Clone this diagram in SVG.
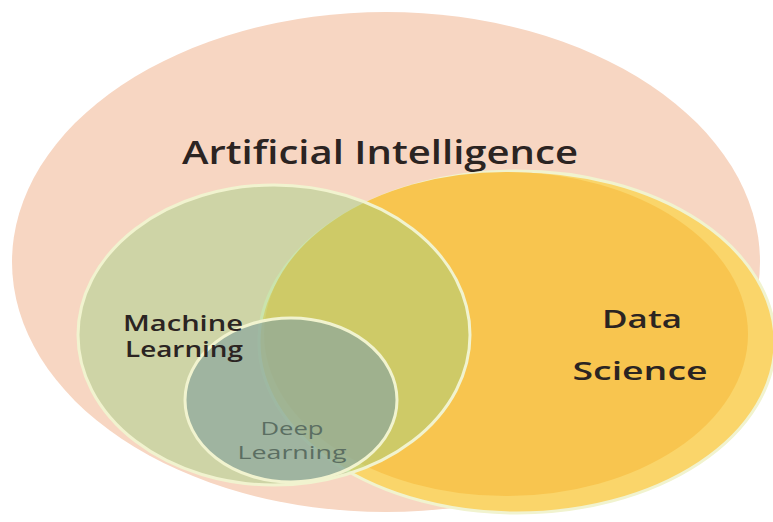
<svg xmlns="http://www.w3.org/2000/svg" width="773" height="522" viewBox="0 0 773 522">
  <style>
    .lbl { font-family: "Open Sans", "Noto Sans", "DejaVu Sans", sans-serif; fill: #2b2422; font-weight: 600; }
    .dl { fill: #5b6e62; font-weight: 400; }
    .rim { stroke: #f1f3cf; stroke-width: 3; }
  </style>
  <rect width="773" height="522" fill="#ffffff"/>

  <!-- Artificial Intelligence: the outer set -->
  <g id="ai">
    <ellipse cx="386" cy="262" rx="374" ry="250" fill="#f7d6c2"/>
    <text class="lbl" x="380" y="164" font-size="32" text-anchor="middle" textLength="396" lengthAdjust="spacingAndGlyphs">Artificial Intelligence</text>
  </g>

  <!-- Data Science: yellow set with a lighter lower-right rim -->
  <g id="data-science">
    <ellipse cx="517" cy="342" rx="258" ry="171" fill="#fad56a" class="rim"/>
    <ellipse cx="506" cy="334" rx="242" ry="162" fill="#f8c54f"/>
    <text class="lbl" x="642" y="328" font-size="26" text-anchor="middle" textLength="80" lengthAdjust="spacingAndGlyphs">Data</text>
    <text class="lbl" x="640" y="380" font-size="26" text-anchor="middle" textLength="135" lengthAdjust="spacingAndGlyphs">Science</text>
  </g>

  <!-- Machine Learning: translucent green set -->
  <g id="machine-learning">
    <ellipse cx="274" cy="335" rx="196" ry="150" fill="#9ed285" fill-opacity="0.46" class="rim"/>
  </g>

  <!-- Deep Learning: translucent teal set inside Machine Learning -->
  <g id="deep-learning">
    <ellipse cx="291" cy="400" rx="106" ry="82" fill="#8da79e" fill-opacity="0.72" class="rim"/>
    <text class="lbl dl" x="292" y="435" font-size="18" text-anchor="middle" textLength="63" lengthAdjust="spacingAndGlyphs">Deep</text>
    <text class="lbl dl" x="292" y="459" font-size="18" text-anchor="middle" textLength="109" lengthAdjust="spacingAndGlyphs">Learning</text>
  </g>

  <!-- Machine Learning label sits above the Deep Learning set -->
  <g id="machine-learning-label">
    <text class="lbl" x="183" y="331" font-size="21" text-anchor="middle" textLength="120" lengthAdjust="spacingAndGlyphs">Machine</text>
    <text class="lbl" x="184" y="357" font-size="21" text-anchor="middle" textLength="118" lengthAdjust="spacingAndGlyphs">Learning</text>
  </g>

  <g id="connectors"/>
</svg>
